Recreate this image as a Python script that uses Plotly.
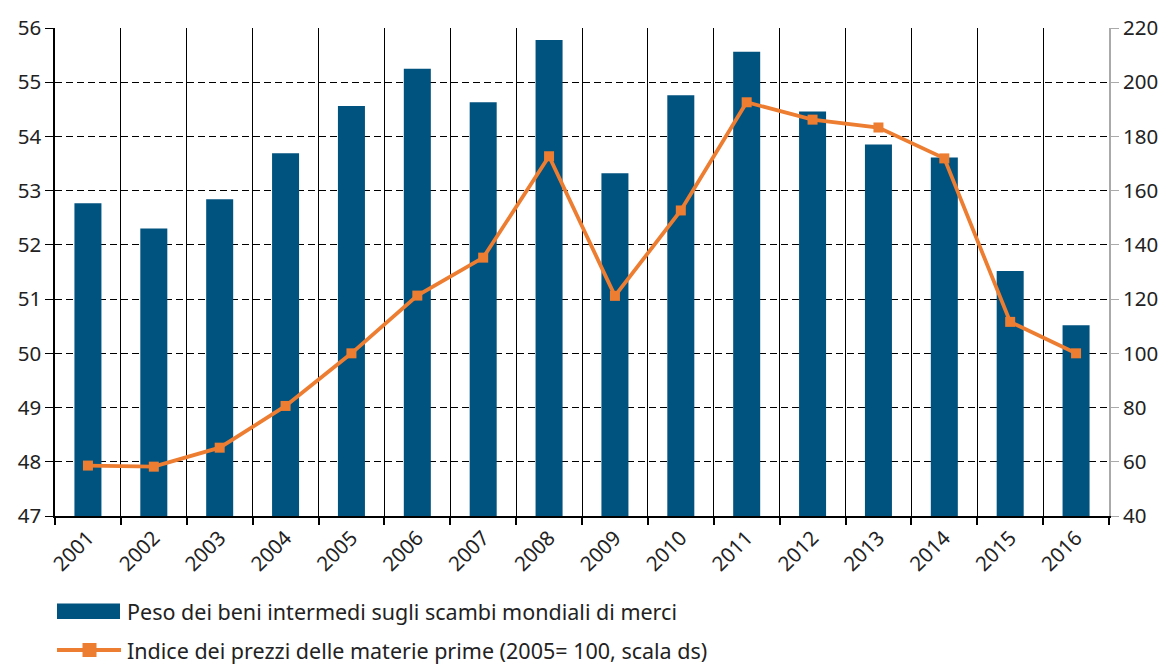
import plotly.graph_objects as go

years = ["2001", "2002", "2003", "2004", "2005", "2006", "2007", "2008",
         "2009", "2010", "2011", "2012", "2013", "2014", "2015", "2016"]
peso_beni_intermedi = [52.77, 52.30, 52.84, 53.69, 54.56, 55.25, 54.63, 55.78,
                       53.32, 54.76, 55.56, 54.46, 53.85, 53.61, 51.52, 50.52]
indice_prezzi = [58.6, 58.2, 65.2, 80.6, 100.0, 121.3, 135.3, 172.7,
                 121.2, 152.7, 192.6, 186.2, 183.3, 171.9, 111.6, 100.0]
left_ticks = [47, 48, 49, 50, 51, 52, 53, 54, 55, 56]
right_ticks = [40, 60, 80, 100, 120, 140, 160, 180, 200, 220]
name_bar = "Peso dei beni intermedi sugli scambi mondiali di merci"
name_line = "Indice dei prezzi delle materie prime (2005= 100, scala ds)"

FONT = "'Noto Sans', 'Open Sans', sans-serif"
BLUE = "#00527f"
ORANGE = "#ed7d31"
TXT = "#222222"

# page body has an 8px margin: figure drawn at (8, 8) in the window
OFF = 8
FIG_W, FIG_H = 1169 - OFF, 666 - OFF
# plot area in screen pixels
L, R, T, B = 55, 1109, 28, 516
W, H = R - L, B - T


def px(x):
    return (x - L) / W


def py(y):
    return (B - y) / H


fig = go.Figure()
fig.add_trace(go.Bar(
    x=years, y=peso_beni_intermedi, name=name_bar,
    marker=dict(color=BLUE, line=dict(width=0)), width=0.41, yaxis="y",
    showlegend=False,
))
fig.add_trace(go.Scatter(
    x=years, y=indice_prezzi, name=name_line,
    mode="lines+markers", line=dict(color=ORANGE, width=3.8),
    marker=dict(symbol="square", size=10, color=ORANGE), yaxis="y2",
    showlegend=False,
))

# manual legend (wide swatches as in the reference)
LEG1_Y = 611
LEG2_Y = 650
shapes = [
    dict(type="rect", xref="paper", yref="paper",
         x0=px(57), x1=px(120), y0=py(LEG1_Y - 7.5), y1=py(LEG1_Y + 8),
         fillcolor=BLUE, line=dict(width=0)),
    dict(type="line", xref="paper", yref="paper",
         x0=px(57), x1=px(121), y0=py(LEG2_Y), y1=py(LEG2_Y),
         line=dict(color=ORANGE, width=3.8)),
    dict(type="rect", xref="paper", yref="paper",
         x0=px(82.5), x1=px(96.5), y0=py(LEG2_Y - 7), y1=py(LEG2_Y + 7),
         fillcolor=ORANGE, line=dict(width=0)),
]
annotations = [
    dict(text=name_bar, xref="paper", yref="paper", x=px(125), y=py(LEG1_Y),
         xanchor="left", yanchor="middle", showarrow=False,
         font=dict(family=FONT, size=21.5, color=TXT)),
    dict(text=name_line, xref="paper", yref="paper", x=px(125), y=py(LEG2_Y),
         xanchor="left", yanchor="middle", showarrow=False,
         font=dict(family=FONT, size=21.5, color=TXT)),
]

fig.update_layout(
    width=FIG_W, height=FIG_H,
    margin=dict(l=L - OFF, r=FIG_W - (R - OFF), t=T - OFF, b=FIG_H - (B - OFF)),
    paper_bgcolor="white", plot_bgcolor="white",
    font=dict(family=FONT, size=20, color=TXT),
    showlegend=False,
    shapes=shapes, annotations=annotations,
    xaxis=dict(type="category", tickson="boundaries", showgrid=True,
               gridcolor="black", gridwidth=1.3,
               showline=True, linecolor="black", linewidth=1.5,
               ticks="outside", ticklen=7, tickcolor="black", tickwidth=1.5,
               tickangle=-45, tickfont=dict(size=20.5, color=TXT),
               range=[-0.5, 15.5], automargin=False),
    yaxis=dict(range=[47, 56], tickvals=left_ticks, showgrid=True,
               gridcolor="black", gridwidth=1, griddash="7px,4px",
               showline=True, linecolor="black", linewidth=1.5,
               ticks="outside", ticklen=8, tickcolor="black",
               tickfont=dict(size=20.5, color=TXT), zeroline=False,
               automargin=False),
    yaxis2=dict(range=[40, 220], tickvals=right_ticks, overlaying="y", side="right",
                showgrid=False, showline=True, linecolor="#aaaaaa", linewidth=2,
                ticks="outside", ticklen=8, tickcolor="#aaaaaa",
                tickfont=dict(size=20.5, color=TXT), zeroline=False,
                automargin=False),
    bargap=0.59,
)

fig.write_html("out.html")
